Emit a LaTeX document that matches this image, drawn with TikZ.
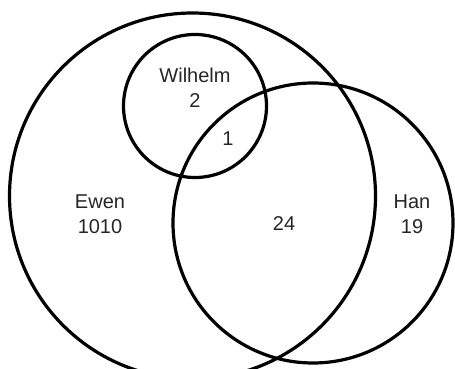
\documentclass[tikz,border=0pt]{standalone}
\usepackage{fontspec}
\setmainfont{Liberation Sans}
\begin{document}
\begin{tikzpicture}[x=1pt,y=1pt,
  setc/.style={draw=black,line width=3.2pt},
  lbl/.style={font=\fontsize{20}{25}\selectfont,align=center,text=black!85}]
\useasboundingbox (0,0) rectangle (455,369);
\fill[white] (0,0) rectangle (455,369);
\node[setc,circle,minimum size=366pt,inner sep=0pt] (ewen) at (192.5,173) {};
\node[setc,circle,minimum size=280pt,inner sep=0pt] (han) at (313,146) {};
\node[setc,circle,minimum size=143pt,inner sep=0pt] (wil) at (195,263) {};
\node[lbl] (tw) at (195,281) {Wilhelm\\2};
\node[lbl] (t1) at (228,230) {1};
\node[lbl] (te) at (100,155) {Ewen\\1010};
\node[lbl] (t24) at (284,145) {24};
\node[lbl] (th) at (412,155) {Han\\19};
\end{tikzpicture}
\end{document}
